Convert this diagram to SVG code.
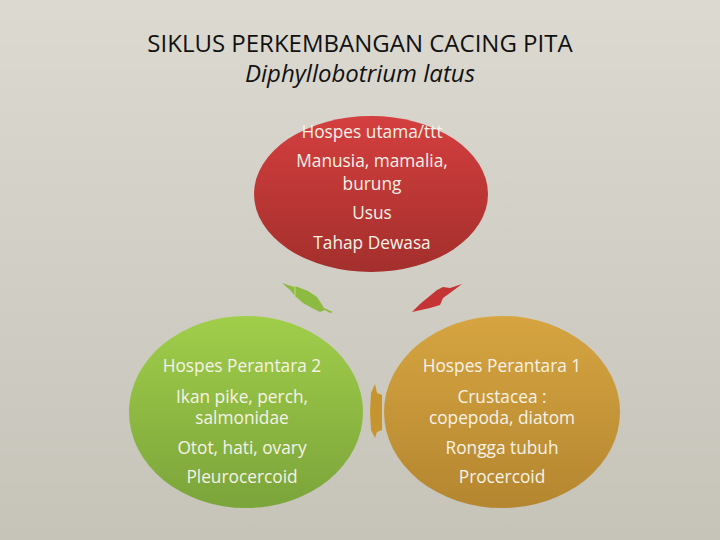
<svg xmlns="http://www.w3.org/2000/svg" width="720" height="540" viewBox="0 0 720 540">
<defs>
<linearGradient id="bg" x1="0" y1="0" x2="0" y2="1"><stop offset="0" stop-color="#dcd9d1"/><stop offset="1" stop-color="#c6c3b9"/></linearGradient>
<linearGradient id="gRed" x1="0" y1="0" x2="0" y2="1"><stop offset="0" stop-color="#d43f3f"/><stop offset="1" stop-color="#a32f2c"/></linearGradient>
<linearGradient id="gGreen" x1="0" y1="0" x2="0" y2="1"><stop offset="0" stop-color="#a0ce4a"/><stop offset="1" stop-color="#7ba43a"/></linearGradient>
<linearGradient id="gOrange" x1="0" y1="0" x2="0" y2="1"><stop offset="0" stop-color="#d6a541"/><stop offset="1" stop-color="#b4862f"/></linearGradient>
<style>
.t{font-family:"Open Sans","Liberation Sans",sans-serif;font-size:17.3px;fill:#f7f2e8;text-anchor:middle}
.h{font-family:"Open Sans","Liberation Sans",sans-serif;font-size:24px;fill:#111;text-anchor:middle}
</style>
</defs>
<rect width="720" height="540" fill="url(#bg)"/>
<text class="h" x="360" y="52">SIKLUS PERKEMBANGAN CACING PITA</text>
<text class="h" x="360" y="82" font-style="italic" font-size="25px">Diphyllobotrium latus</text>
<g id="connectors">
<polygon points="282,283 294,287 295,286 308,291 317,297 324,308 333,312 330,313 325,310 320,312 312,308 303,303 295,296 290,290" fill="#8dba40"/>
<line x1="295" y1="286" x2="295" y2="296" stroke="#cfe29a" stroke-width="0.8"/>
<polygon points="412,312 420,304 437,290 443,287 450,288 462,284 458,287 450,293 443,298 440,305 430,308" fill="#c53434"/>
<polygon points="375,384 377,393 382,395 382,430 377,432 375,438 371,430 370,412 371,393" fill="#c6952f"/>
</g>
<g id="node-utama">
<ellipse cx="371" cy="194" rx="117" ry="78" fill="url(#gRed)"/>
<text class="t" x="372" y="138">Hospes utama/ttt</text>
<text class="t" x="372" y="167">Manusia, mamalia,</text>
<text class="t" x="372" y="190">burung</text>
<text class="t" x="372" y="219">Usus</text>
<text class="t" x="372" y="249">Tahap Dewasa</text>
</g>
<g id="node-perantara2">
<ellipse cx="246" cy="412" rx="117" ry="96" fill="url(#gGreen)"/>
<text class="t" x="242" y="372">Hospes Perantara 2</text>
<text class="t" x="242" y="403">Ikan pike, perch,</text>
<text class="t" x="242" y="424">salmonidae</text>
<text class="t" x="242" y="454">Otot, hati, ovary</text>
<text class="t" x="242" y="483">Pleurocercoid</text>
</g>
<g id="node-perantara1">
<ellipse cx="502" cy="412" rx="118" ry="96" fill="url(#gOrange)"/>
<text class="t" x="502" y="372">Hospes Perantara 1</text>
<text class="t" x="502" y="403">Crustacea :</text>
<text class="t" x="502" y="424">copepoda, diatom</text>
<text class="t" x="502" y="454">Rongga tubuh</text>
<text class="t" x="502" y="483">Procercoid</text>
</g>
</svg>
